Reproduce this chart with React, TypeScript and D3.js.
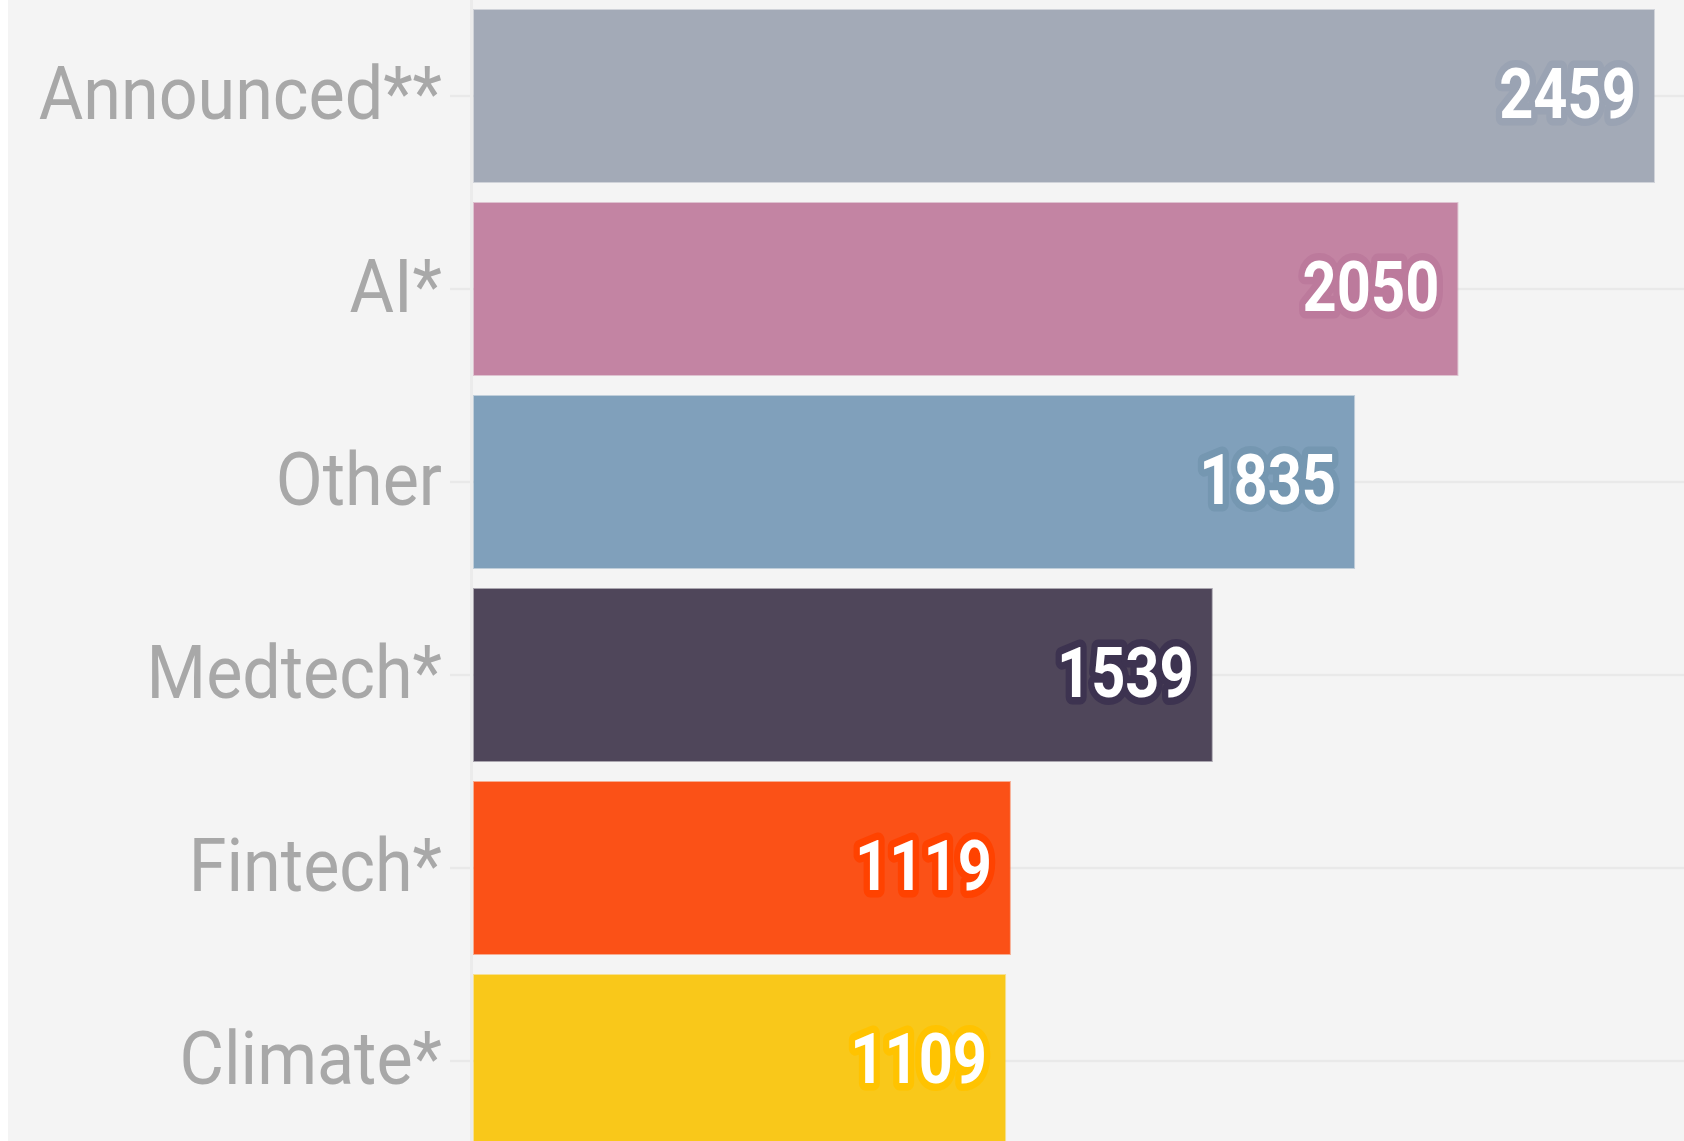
import React from "react";
import * as d3 from "d3";

const categories = ["Announced**", "AI*", "Other", "Medtech*", "Fintech*", "Climate*"];
const values = [2459, 2050, 1835, 1539, 1119, 1109];
const barColors = ["#a3aab7", "#c384a3", "#80a0bb", "#4f465a", "#fb5117", "#f9c81a"];
const haloColors = ["#9aa3b3", "#bc7a9c", "#7597b1", "#3d3350", "#ff4200", "#ffc300"];

const W = 1684;
const H = 1141;

export default function App() {
  const x = d3.scaleLinear().domain([0, 2459]).range([473, 1655]);
  const y = d3
    .scaleBand<string>()
    .domain(categories)
    .range([-0.5, -0.5 + categories.length * 193])
    .paddingInner(19 / 193)
    .paddingOuter(19 / 193 / 2);
  const bw = y.bandwidth();

  return (
    <svg
      width={W - 8}
      height={H}
      style={{ position: "absolute", left: 8, top: 0, display: "block" }}
    >
      <g transform="translate(-8,0)">
        <rect x={8} y={0} width={W - 8} height={H} fill="#f4f4f4" />
        {/* gridlines + ticks */}
        {categories.map((c) => {
          const cy = (y(c) as number) + bw / 2;
          return (
            <line
              key={"g" + c}
              x1={450}
              x2={W}
              y1={cy}
              y2={cy}
              stroke="#e9e9e9"
              strokeWidth={2.5}
            />
          );
        })}
        {/* axis line */}
        <line x1={471.5} x2={471.5} y1={0} y2={H} stroke="#ebebeb" strokeWidth={3} />
        {/* bars */}
        {categories.map((c, i) => {
          const y0 = y(c) as number;
          const x1 = x(values[i]);
          return (
            <rect
              key={"b" + c}
              x={x(0) + 1}
              y={y0 + 1}
              width={x1 - x(0) - 2}
              height={bw - 2}
              fill={barColors[i]}
              stroke={barColors[i]}
              strokeOpacity={0.45}
              strokeWidth={2}
            />
          );
        })}
        {/* category labels */}
        {categories.map((c) => {
          const cy = (y(c) as number) + bw / 2;
          return (
            <text
              key={"l" + c}
              transform={`translate(442,${cy + 23}) scale(0.91,1)`}
              textAnchor="end"
              fontFamily="Roboto"
              fontSize={75}
              fill="#a8a8a8"
            >
              {c}
            </text>
          );
        })}
        {/* value labels */}
        {categories.map((c, i) => {
          const cy = (y(c) as number) + bw / 2;
          return (
            <text
              key={"v" + c}
              transform={`translate(${x(values[i]) - 19},${cy + 22}) scale(0.84,1)`}
              textAnchor="end"
              fontFamily="Roboto"
              fontWeight={700}
              fontSize={71}
              fill="#ffffff"
              stroke={haloColors[i]}
              strokeWidth={15}
              strokeLinejoin="round"
              paintOrder="stroke"
            >
              {values[i]}
            </text>
          );
        })}
      </g>
    </svg>
  );
}
